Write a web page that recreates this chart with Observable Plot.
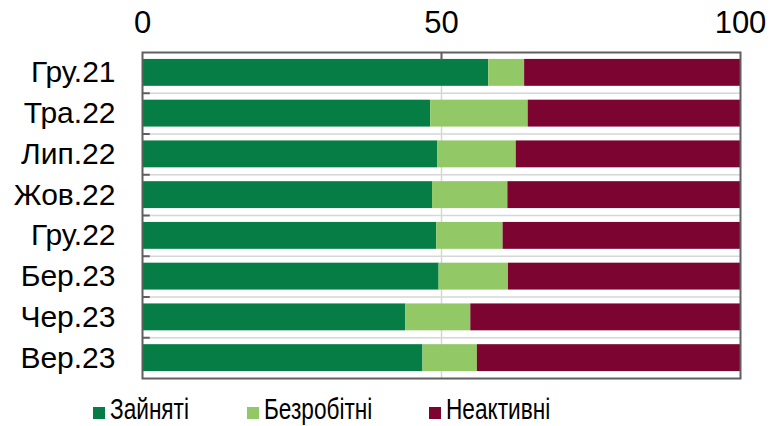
<!DOCTYPE html>
<html>
<head>
<meta charset="utf-8">
<script src="https://cdn.jsdelivr.net/npm/d3@7"></script>
<script src="https://cdn.jsdelivr.net/npm/@observablehq/plot@0.6"></script>
<style>
  html, body { margin: 0; padding: 0; background: #fff; }
  body { width: 777px; height: 426px; overflow: hidden; font-family: "Liberation Sans", Arial, sans-serif; }
  #chart { position: relative; width: 777px; height: 426px; }
  .legend { position: absolute; top: 395px; left: 0; width: 777px; height: 29px; }
  .item { position: absolute; top: 0; font-family: "Liberation Sans", Arial, sans-serif; font-size: 29px; color: #000; line-height: 29px; height: 29px; white-space: nowrap; }
  .sw { display: inline-block; width: 12px; height: 12px; margin-right: 5px; vertical-align: 0px; }
  .lbl { display: inline-block; transform: scaleX(0.78); transform-origin: 0 50%; }
</style>
</head>
<body>
<div id="chart"></div>
<script>
const categories = ["Гру.21", "Тра.22", "Лип.22", "Жов.22", "Гру.22", "Бер.23", "Чер.23", "Вер.23"];
const employed   = [57.9, 48.2, 49.4, 48.5, 49.2, 49.6, 44.0, 46.9];
const unemployed = [6.0, 16.3, 13.1, 12.6, 11.1, 11.6, 10.9, 9.1];
const inactive   = [36.1, 35.5, 37.5, 38.9, 39.7, 38.8, 45.1, 44.0];
const seriesNames = ["Зайняті", "Безробітні", "Неактивні"];
const seriesColors = ["#077d46", "#92c865", "#7b0431"];
const xTicks = [0, 50, 100];

const seriesValues = [employed, unemployed, inactive];
const rows = [];
categories.forEach((c, i) => {
  let acc = 0;
  seriesValues.forEach((vals, s) => {
    rows.push({cat: c, idx: i, series: seriesNames[s], x1: acc, x2: acc + vals[i]});
    acc += vals[i];
  });
});
const pad = 0.17;

const plot = Plot.plot({
  width: 777,
  height: 390,
  marginTop: 52,
  marginBottom: 12,
  marginLeft: 142,
  marginRight: 37,
  style: {fontFamily: "'Liberation Sans', Arial, sans-serif", color: "#000", background: "#fff"},
  x: {domain: [0, 100]},
  y: {domain: [0, categories.length], reverse: true},
  color: {domain: seriesNames, range: seriesColors},
  marks: [
    Plot.ruleX([50], {stroke: "#d4d6d8", strokeWidth: 1.5}),
    Plot.ruleY(d3.range(1, categories.length), {stroke: "#d4d6d8", strokeWidth: 1.5}),
    Plot.rectX(rows, {
      x1: "x1", x2: "x2",
      y1: d => d.idx + pad, y2: d => d.idx + 1 - pad,
      fill: "series"
    }),
    Plot.ruleY(d3.range(1, categories.length), {x1: 0, x2: 1.3, stroke: "#5f5f5f", strokeWidth: 2}),
    Plot.ruleX([50], {y1: 0, y2: 0.2, stroke: "#5f5f5f", strokeWidth: 2}),
    Plot.frame({stroke: "#5f5f5f", strokeWidth: 2}),
    Plot.axisX({anchor: "top", ticks: xTicks, tickSize: 0, tickPadding: 20, fontSize: 31, tickFormat: d => String(d)}),
    Plot.axisY({
      anchor: "left",
      ticks: categories.map((c, i) => i + 0.5),
      tickFormat: d => categories[Math.floor(d)],
      tickSize: 0, tickPadding: 27, fontSize: 30
    })
  ]
});
const chart = document.getElementById("chart");
chart.appendChild(plot);

const legend = document.createElement("div");
legend.className = "legend";
const lefts = [93, 247, 429];
seriesNames.forEach((name, i) => {
  const it = document.createElement("div");
  it.className = "item";
  it.style.left = lefts[i] + "px";
  const sw = document.createElement("span");
  sw.className = "sw";
  sw.style.background = seriesColors[i];
  it.appendChild(sw);
  const lbl = document.createElement("span");
  lbl.className = "lbl";
  lbl.textContent = name;
  it.appendChild(lbl);
  legend.appendChild(it);
});
chart.appendChild(legend);
</script>
</body>
</html>
